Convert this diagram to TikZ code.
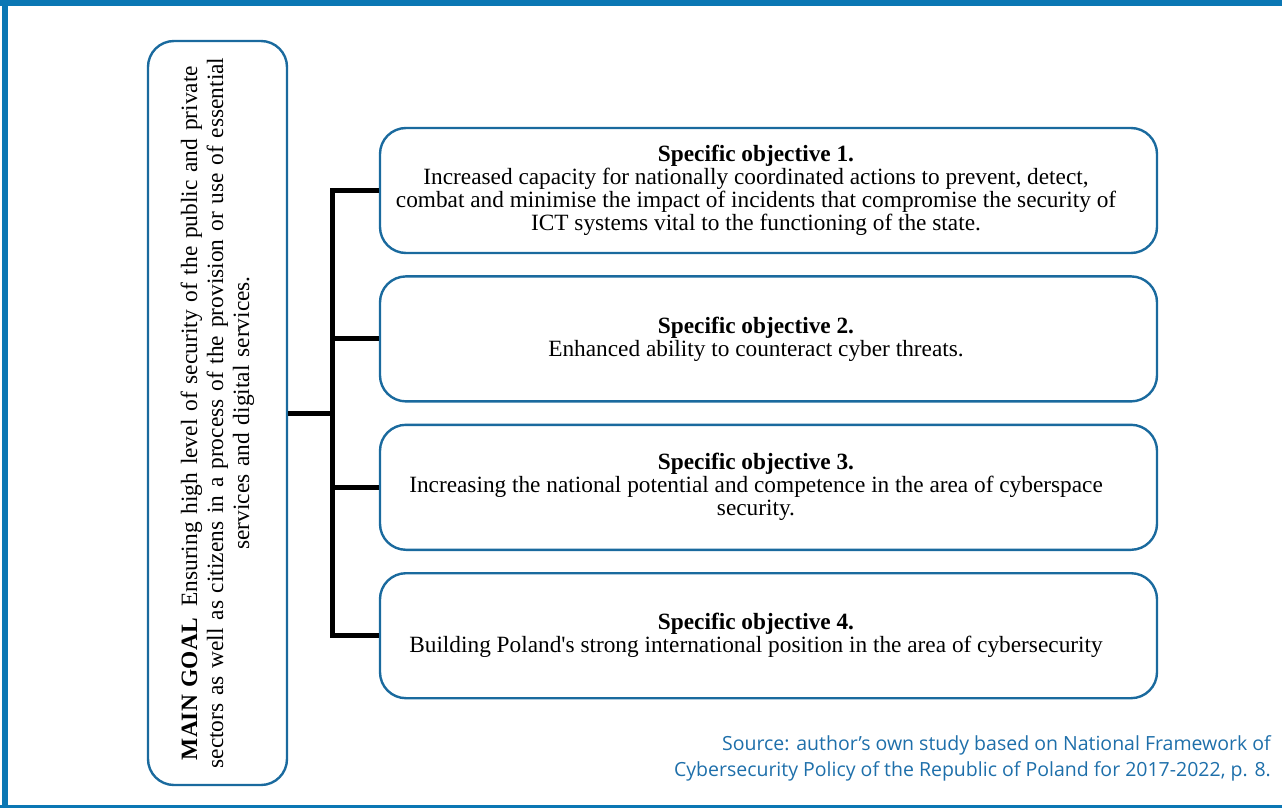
\documentclass[tikz,border=0pt]{standalone}
\usepackage{fontspec}
\setmainfont{Liberation Serif}
\newfontfamily\srcfont{Open Sans}
\usetikzlibrary{positioning}
\definecolor{frameblue}{HTML}{0B77B4}
\definecolor{boxblue}{HTML}{1A6A9E}
\definecolor{srcblue}{HTML}{1E6FAA}
\newcommand\objtext[1]{\parbox{750pt}{\centering #1}\hspace*{25pt}}
\tikzset{
  goalbox/.style = {rectangle, rounded corners=26pt, draw=boxblue, line width=2.4pt, minimum width=744pt, minimum height=139pt, text width=730pt, align=center, font=\fontsize{23.4}{26}\selectfont},
  objbox/.style = {rectangle, rounded corners=26pt, draw=boxblue, line width=2.4pt, minimum width=777pt, minimum height=125pt, inner xsep=0pt, font=\fontsize{23.3}{23}\selectfont},
  link/.style = {line width=5pt, draw=black},
  source/.style = {align=right, text=srcblue, font=\srcfont\fontsize{19.5}{26}\selectfont, inner sep=0pt},
}
\begin{document}
\begin{tikzpicture}[x=1pt, y=1pt, node distance=21pt]
  \useasboundingbox (0,0) rectangle (1282,-808);
  % frame
  \fill[frameblue] (0,0) rectangle (1282,-6);
  \fill[frameblue] (2,0) rectangle (8,-808);
  \fill[frameblue] (0,-805) rectangle (1282,-808);

  % main goal
  \node (goal) [goalbox, rotate=90] at (217.5,-413) {\textbf{MAIN GOAL}\enspace Ensuring high level of security of the public and private\\ sectors as well as citizens in a process of the provision or use of essential\\ services and digital services.};

  % specific objectives
  \node (obj1) [objbox] at (768.5,-190.5) {\objtext{\textbf{Specific objective 1.}\\ Increased capacity for nationally coordinated actions to prevent, detect,\\ combat and minimise the impact of incidents that compromise the security of\\ ICT systems vital to the functioning of the state.}};
  \node (obj2) [objbox, below=of obj1] {\objtext{\textbf{Specific objective 2.}\\ Enhanced ability to counteract cyber threats.}};
  \node (obj3) [objbox, below=of obj2] {\objtext{\textbf{Specific objective 3.}\\ Increasing the national potential and competence in the area of cyberspace\\ security.}};
  \node (obj4) [objbox, below=of obj3] {\objtext{\textbf{Specific objective 4.}\\ Building Poland\textquotesingle s strong international position in the area of cybersecurity}};

  % source
  \node (src) [source, anchor=north east] at (1271,-735) {Source: author’s own study based on National Framework of\\ Cybersecurity Policy of the Republic of Poland for 2017-2022, p. 8.};

  % connectors
  \draw[link] (goal.south) -- ++(44,0) coordinate (hub);
  \draw[link] (obj1.west) -| (hub |- obj4.west) -- (obj4.west);
  \foreach \i in {2,3}
    \draw[link] (hub |- obj\i.west) -- (obj\i.west);
\end{tikzpicture}
\end{document}
